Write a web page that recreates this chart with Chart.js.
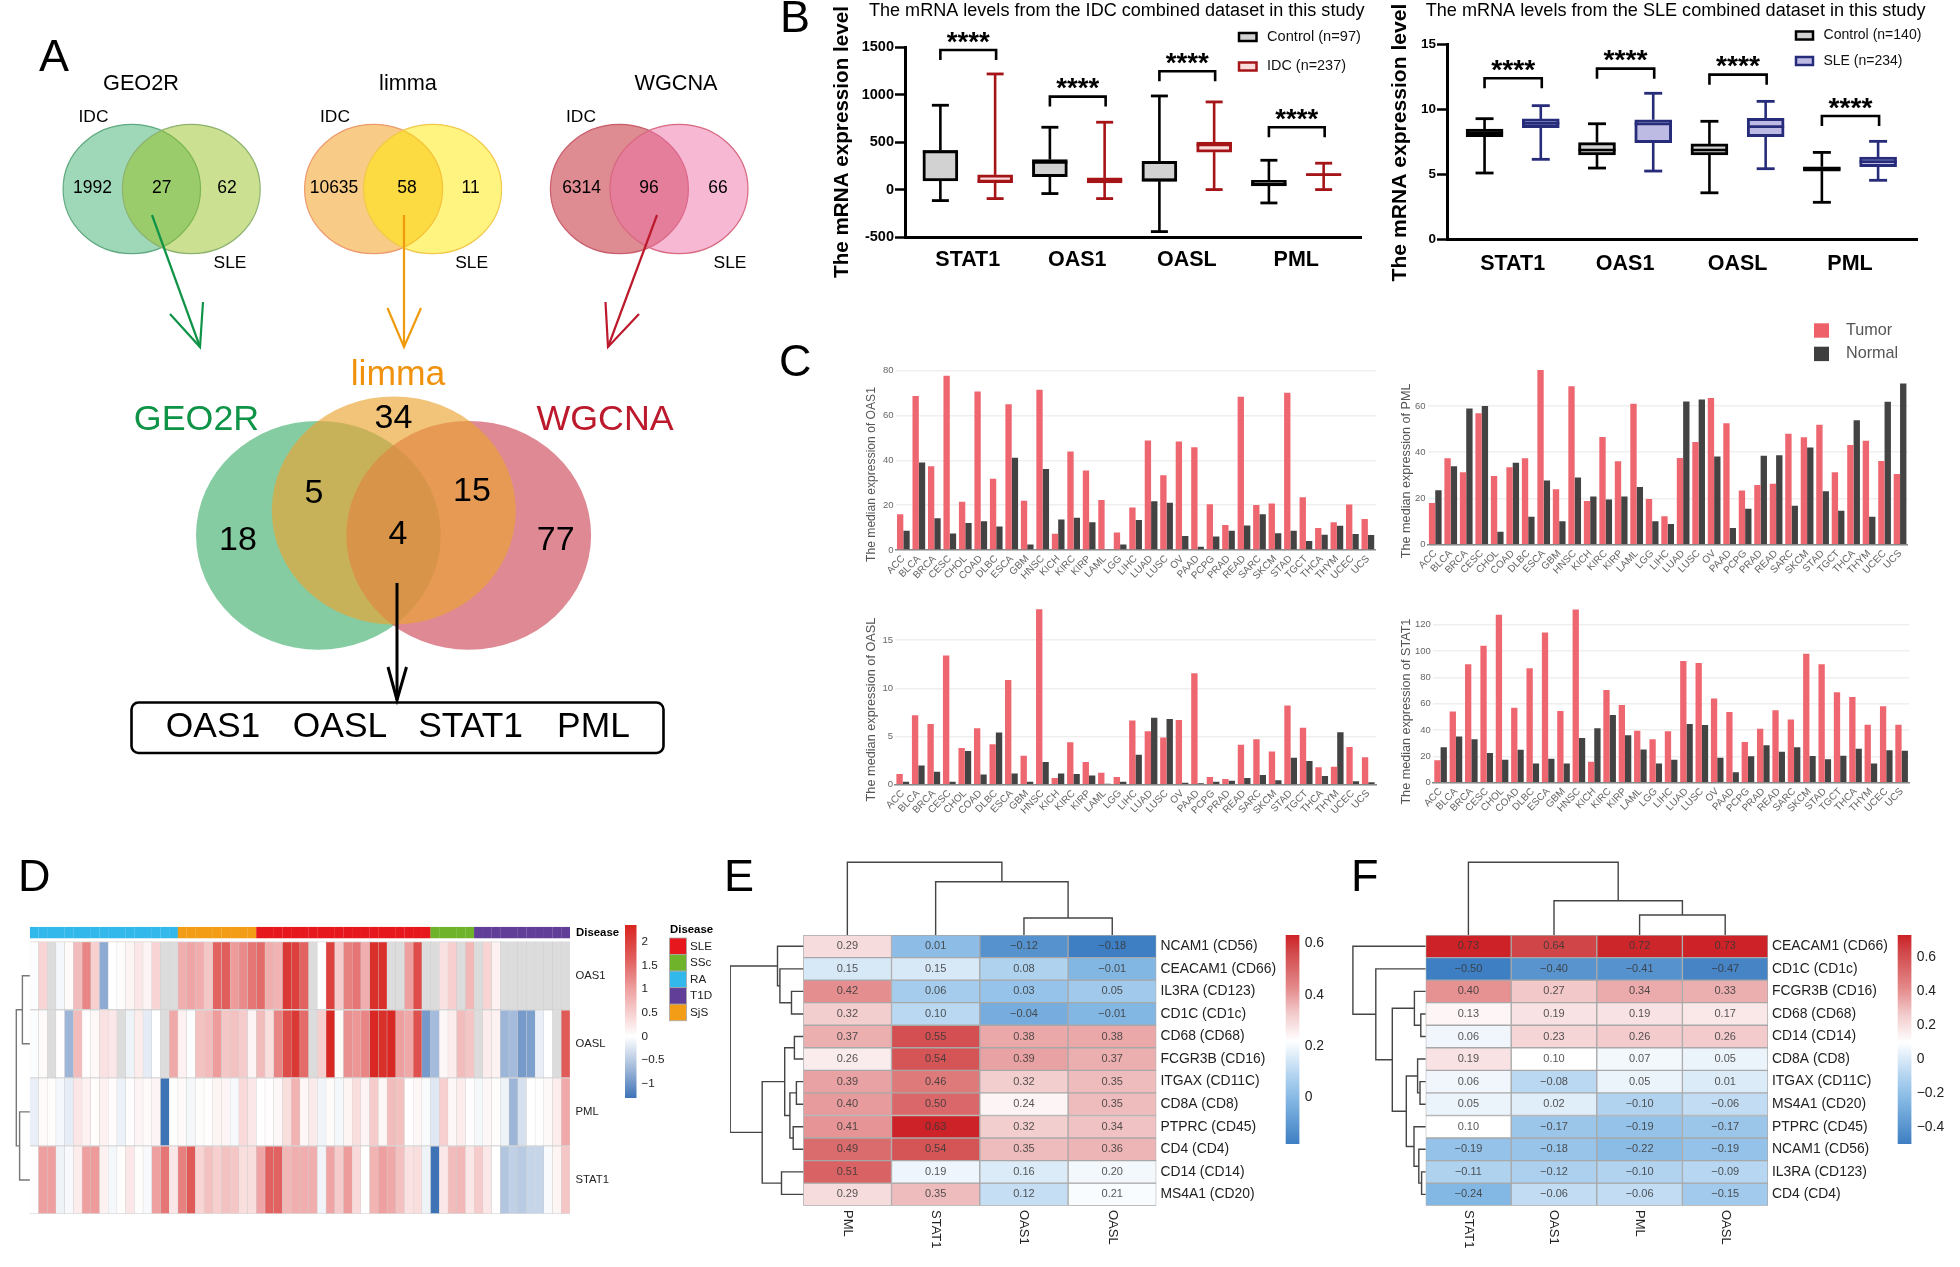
<!doctype html>
<html><head><meta charset="utf-8">
<style>html,body{margin:0;padding:0;background:#fff;width:1960px;height:1267px;overflow:hidden}canvas{position:absolute;display:block}</style>
<script src="https://cdn.jsdelivr.net/npm/chart.js@4/dist/chart.umd.min.js"></script>
</head><body><script>
// ---------- DATA ----------
const boxGenes=['STAT1','OAS1','OASL','PML'];
// [min,q1,median,q3,max]
const idcControlBox=[[-116,91,400,411,889],[-42,137,285,316,657],[-443,88,100,299,987],[-141,39,56,98,309]];
const idcCaseBox=[[-95,74,90,155,1219],[-95,70,98,123,710],[0,395,470,500,924],[0,152,158,165,278]];
const idcBracketTop=[1472,980,1247,657];
const idcTicks=[-500,0,500,1000,1500];
const sleControlBox=[[5.12,7.91,8.2,8.5,9.29],[5.5,6.5,6.89,7.45,8.9],[3.6,6.5,6.89,7.35,9.09],[2.87,5.27,5.45,5.6,6.7]];
const sleCaseBox=[[6.17,8.6,8.93,9.27,10.29],[5.27,7.45,8.88,9.21,11.24],[5.45,7.91,8.68,9.32,10.62],[4.56,5.6,5.99,6.35,7.55]];
const sleBracketTop=[12.39,13.13,12.67,9.5];
const sleTicks=[0,5,10,15];

const cancers=['ACC','BLCA','BRCA','CESC','CHOL','COAD','DLBC','ESCA','GBM','HNSC','KICH','KIRC','KIRP','LAML','LGG','LIHC','LUAD','LUSC','OV','PAAD','PCPG','PRAD','READ','SARC','SKCM','STAD','TGCT','THCA','THYM','UCEC','UCS'];
const oas1Tumor=[16,68.7,37.4,77.8,21.5,70.7,31.8,65,22,71.5,7.2,44,35.5,22.3,7.8,19,48.9,33.4,48.4,45.8,20.4,11.1,68.4,20.1,20.8,70.2,23.5,9.8,12.4,20.3,13.8];
const oas1Normal=[8.6,39,14.2,7.4,12.1,12.8,10.5,41.2,2.4,36.1,13.6,14.4,12.4,0.3,2.4,13.4,21.7,21.1,6.3,1.4,6,8.6,10.9,15.9,7.5,8.6,4,6.8,10.8,7.1,6.7];
const pmlTumor=[18,37.4,31.3,56.9,29.7,33.5,37.4,75.6,24,68.5,18.9,46.6,36.1,61,19.8,12.3,37.5,44.4,63.5,52.5,23.4,25.8,26.4,48,46.5,51.9,31.3,43.1,45,36.2,30.6];
const pmlNormal=[23.5,33.9,58.9,60,5.6,35.5,12.1,27.8,10.1,29.1,20.8,19.5,20.8,25,10.1,8.9,61.9,62.8,38.2,7.2,15.6,38.5,38.7,16.9,42,23.1,14.7,53.8,12.1,61.8,69.7];
const oaslTumor=[1.1,7.2,6.3,13.4,3.8,5.85,4.2,10.85,3,18.2,0.7,4.4,2.35,1.25,0.8,6.65,5.55,4.9,6.7,11.55,0.8,0.6,4.15,4.7,3.45,8.2,5.9,1.8,1.85,3.9,2.85];
const oaslNormal=[0.3,2,1.35,0.3,3.5,1.05,5.4,1.15,0.3,2.35,1.15,1.1,0.95,0.1,0.3,3.1,6.95,6.8,0.2,0.15,0.3,0.4,0.7,1,0.45,2.8,2.45,0.9,5.45,0.35,0.25];
const stat1Tumor=[17,54,90,104,127.5,57,87,114,54.5,131.5,16,70.5,59,39.5,33,39,92.5,91,64,53.7,31,41,55,48,98,90,68.7,65,44,58,44];
const stat1Normal=[27,35,33,22.5,17.5,25,14.5,18.2,14.5,34,41.3,51.5,36,25.2,14.5,17.5,44.5,43.8,19,8,20,28.5,23.5,27,20.2,17.8,20.5,25.8,14.5,24.7,24.3];

const diseaseNames=['RA','SjS','SLE','SSc','T1D'];
const diseaseCounts=[17,9,20,5,11];
const diseaseLegend=['SLE','SSc','RA','T1D','SjS'];
const diseaseColors={SLE:'#E6181E',SSc:'#6FB32A',RA:'#33B8EC',T1D:'#613E98',SjS:'#F39C16'};
const dRows=['OAS1','OASL','PML','STAT1'];
const n=null;
const dOAS1=[-.03,.45,n,-.08,.05,.7,1.25,.5,-.8,0,.03,.12,.25,.1,.45,n,n,.85,.95,.85,.6,1.6,1.65,1.05,1.2,1.4,1.5,.85,.8,2.1,2.0,1.6,n,0,2.0,.55,1.3,1.4,.85,2.2,2.2,n,n,1.0,1.85,n,n,.3,.5,n,.75,n,.45,.15,n,n,n,n,n,n,n,n];
const dOASL=[-.03,.05,n,.02,-.7,.7,.02,.07,.3,.25,n,-.12,.2,-.18,0,n,.9,.15,-.02,.65,.7,1.05,.6,.65,.55,.1,.7,.35,1.25,1.85,2.1,1.5,n,.5,2.3,.05,1.15,1.1,1.25,2.3,2.2,2.3,1.0,.9,1.8,-.95,-.65,.08,.2,.7,.6,n,.2,.15,-.7,-.65,-.95,-.9,-.15,0,n,1.7];
const dPML=[-.15,.05,.03,-.08,-.17,.25,.15,.03,.15,.03,-.13,.02,.1,.05,.1,-1.3,0,.05,-.07,.04,.02,.12,.1,-.06,.4,.25,0,.02,.08,.35,.8,.08,.22,-.1,.04,-.07,.12,.35,.1,.55,.08,.7,.65,.02,.08,-.05,-.22,.5,.08,.2,.02,-.07,.08,.03,-.12,-.7,-.3,0,-.01,.06,.2,.9];
const dSTAT1=[.02,1,1,-.12,-.06,.2,1,1.05,.15,-.07,.03,.25,.03,-.06,1,1.4,.25,1.3,1.7,.45,.65,.5,.65,.6,.35,.35,.95,1.6,1.6,.75,.85,.85,.85,-.1,.95,.55,1.05,.4,0,.8,1,.9,.65,.3,.35,-.12,-1.3,.25,.7,.75,.25,.55,.25,0,-.55,-.45,-.5,-.4,-.4,-.05,.12,.6];
const dTicks=[2,1.5,1,.5,0,-.5,-1];

const eCols=['PML','STAT1','OAS1','OASL'];
const eRows=['NCAM1 (CD56)','CEACAM1 (CD66)','IL3RA (CD123)','CD1C (CD1c)','CD68 (CD68)','FCGR3B (CD16)','ITGAX (CD11C)','CD8A (CD8)','PTPRC (CD45)','CD4 (CD4)','CD14 (CD14)','MS4A1 (CD20)'];
const ePML=[.29,.15,.42,.32,.37,.26,.39,.40,.41,.49,.51,.29];
const eSTAT1=[.01,.15,.06,.10,.55,.54,.46,.50,.63,.54,.19,.35];
const eOAS1=[-.12,.08,.03,-.04,.38,.39,.32,.24,.32,.35,.16,.12];
const eOASL=[-.18,-.01,.05,-.01,.38,.37,.35,.35,.34,.36,.20,.21];
const eTicks=[.6,.4,.2,0];
const fCols=['STAT1','OAS1','PML','OASL'];
const fRows=['CEACAM1 (CD66)','CD1C (CD1c)','FCGR3B (CD16)','CD68 (CD68)','CD14 (CD14)','CD8A (CD8)','ITGAX (CD11C)','MS4A1 (CD20)','PTPRC (CD45)','NCAM1 (CD56)','IL3RA (CD123)','CD4 (CD4)'];
const fSTAT1=[.73,-.50,.40,.13,.06,.19,.06,.05,.10,-.19,-.11,-.24];
const fOAS1=[.64,-.40,.27,.19,.23,.10,-.08,.02,-.17,-.18,-.12,-.06];
const fPML=[.72,-.41,.34,.19,.26,.07,.05,-.10,-.19,-.22,-.10,-.06];
const fOASL=[.73,-.47,.33,.17,.26,.05,.01,-.06,-.17,-.19,-.09,-.15];
const fTicks=[.6,.4,.2,0,-.2,-.4];
// dendrogram trees: [height, childA, childB]; numbers are leaf indexes
const dTree=[13.5,[7.4,0,1],[10.2,2,3]];
const eRowTree=[73,[25.7,0,[23.3,1,[11.7,2,3]]],[41,[18.5,[8.8,4,5],[13.3,[6.8,6,7],[10,8,9]]],[21.7,10,11]]];
const eColTree=[72.7,0,[53.3,1,[17,2,3]]];
const fRowTree=[72.7,0,[49.8,1,[33.3,[11.2,2,[4.8,3,4]],[19.3,[8,5,[5.6,6,7]],[11.6,8,[6.8,9,[4,10,11]]]]]]];
const fColTree=[72.7,0,[34.3,1,[20,2,3]]];

const smallVennTitles=['GEO2R','limma','WGCNA'];
const smallVennCounts=[['1992','27','62'],['10635','58','11'],['6314','96','66']];
const bigVennCounts=['34','5','15','18','4','77'];
const finalGenes=['OAS1','OASL','STAT1','PML'];

// ---------- HELPERS ----------
const FONT='"Liberation Sans", Arial, sans-serif';
Chart.defaults.font.family=FONT;
function txt(ctx,s,x,y,o={}){
  const {size=12,bold=false,color='#000',align='left',rot=0,w=null,base='middle'}=o;
  ctx.save();
  let sz=size; ctx.font=(bold?'bold ':'')+sz+'px '+FONT;
  if(w){sz=sz*w/ctx.measureText(s).width; ctx.font=(bold?'bold ':'')+sz+'px '+FONT;}
  ctx.translate(x,y); if(rot)ctx.rotate(rot*Math.PI/180);
  ctx.textAlign=align;ctx.textBaseline=base;ctx.fillStyle=color;ctx.fillText(s,0,0);ctx.restore();
}
function line(ctx,pts,color,lw,cap){
  ctx.save();ctx.strokeStyle=color;ctx.lineWidth=lw;ctx.lineCap=cap||'butt';ctx.lineJoin='miter';ctx.beginPath();
  pts.forEach((p,i)=>i?ctx.lineTo(p[0],p[1]):ctx.moveTo(p[0],p[1]));ctx.stroke();ctx.restore();
}
const fix=(dim,v)=>s=>{s[dim]=v;s.paddingLeft=s.paddingRight=s.paddingTop=s.paddingBottom=0;};
function mk(r,pad,cfg,draw){
  const c=document.createElement('canvas');c.width=r.w;c.height=r.h;
  c.style.left=r.x+'px';c.style.top=r.y+'px';c.style.width=r.w+'px';c.style.height=r.h+'px';
  document.body.appendChild(c);
  cfg.options=Object.assign({responsive:false,animation:false,devicePixelRatio:1,events:[],
    layout:{autoPadding:false,padding:pad},plugins:{legend:{display:false},tooltip:{enabled:false}}},cfg.options);
  cfg.plugins=[{id:'extras',afterDraw(ch){
    const ctx=ch.ctx;ctx.save();ctx.translate(-r.x,-r.y);
    const X=(v,ax='x')=>ch.scales[ax].getPixelForValue(v)+r.x, Y=(v,ax='y')=>ch.scales[ax].getPixelForValue(v)+r.y;
    draw(ctx,ch,X,Y,r);ctx.restore();}}];
  return new Chart(c,cfg);
}
function lerpStops(st,t){
  t=Math.max(0,Math.min(1,t));
  for(let i=1;i<st.length;i++) if(t<=st[i][0]){
    const a=st[i-1],b=st[i],k=(t-a[0])/(b[0]-a[0]);
    return 'rgb('+[1,2,3].map(j=>Math.round(a[j]+(b[j]-a[j])*k)).join(',')+')';
  }
  const l=st[st.length-1];return 'rgb('+l[1]+','+l[2]+','+l[3]+')';
}
const warm=[[0,255,255,255],[.27,242,200,201],[.5,228,138,139],[.86,208,68,70],[1,205,33,38]];
const cool=[[0,255,255,255],[.33,179,212,240],[.57,132,184,228],[1,62,126,194]];
const warmD=[[0,255,255,255],[.21,247,208,208],[.425,238,160,160],[.68,225,98,96],[1,216,36,31]];
const coolD=[[0,255,255,255],[.54,157,182,216],[1,62,115,182]];
function ramp(v,lo,mid,hi,w,c){
  if(v===null) return '#DCDCDC';
  return v>=mid?lerpStops(w,(v-mid)/(hi-mid)):lerpStops(c,(mid-v)/(mid-lo));
}
function dendro(ctx,tree,leaf,edge,vertical,color,lw){
  (function rec(nd){
    if(typeof nd==='number') return {p:leaf(nd),h:0};
    const A=rec(nd[1]),B=rec(nd[2]),h=nd[0];
    const pts=vertical?[[A.p,edge-A.h],[A.p,edge-h],[B.p,edge-h],[B.p,edge-B.h]]
                      :[[edge-A.h,A.p],[edge-h,A.p],[edge-h,B.p],[edge-B.h,B.p]];
    line(ctx,pts,color,lw);
    return {p:(A.p+B.p)/2,h};
  })(tree);
}
function colorbar(ctx,x0,x1,y0,y1,lo,mid,hi,w,c,ticks,labX,size){
  for(let y=Math.floor(y0);y<y1;y++){
    const v=hi-(y+.5-y0)/(y1-y0)*(hi-lo);
    ctx.fillStyle=ramp(v,lo,mid,hi,w,c);ctx.fillRect(x0,y,x1-x0,1);
  }
  ticks.forEach(t=>{
    const y=y0+(hi-t)/(hi-lo)*(y1-y0);
    txt(ctx,(t<0?'\u2212':'')+String(Math.abs(t)),labX,y,{size,color:'#222'});
  });
}

// ---------- PANEL A + LETTERS (page-wide layer) ----------
const ellipses={ // cx,cy,rx,ry in page units
  small:[[131.8,189,68.7,64.7,'rgba(63,177,113,.5)','#5FA980'],[191.3,189,68.9,64.7,'rgba(151,193,33,.5)','#8DB26E'],
         [373.6,189,69,64.7,'rgba(241,151,13,.5)','#ED9A6C'],[432.6,189,69,64.7,'rgba(255,233,0,.5)','#F2C84A'],
         [619.4,189,69,64.7,'rgba(189,23,37,.5)','#C95D6C'],[679,189,69,64.7,'rgba(237,113,165,.5)','#D86880']],
  big:[[318.4,535.3,122.4,114.4,'rgba(67,176,112,.65)'],[468.7,535.3,122.4,114.4,'rgba(204,74,90,.65)'],[393.8,510.4,122,114,'rgba(235,165,50,.65)']]
};
mk({x:0,y:0,w:1960,h:1267},0,{type:'scatter',data:{datasets:[{data:[]}]},options:{scales:{
  x:{type:'linear',display:false,min:0,max:1960},y:{type:'linear',display:false,min:0,max:1267,reverse:true}}}},
 (ctx,ch,X,Y)=>{
  ellipses.small.concat(ellipses.big).forEach(e=>{
    ctx.beginPath();ctx.ellipse(X(e[0]),Y(e[1]),e[2],e[3],0,0,2*Math.PI);ctx.fillStyle=e[4];ctx.fill();
    if(e[5]){ctx.strokeStyle=e[5];ctx.lineWidth=1.2;ctx.stroke();}
  });
  const tcx=[141,408,676], f=21.7;
  smallVennTitles.forEach((s,i)=>txt(ctx,s,tcx[i],84,{size:f,align:'center'}));
  const cx=[[92.5,161.7,227],[334,407,470.6],[581.6,649,718]],idc=[93.5,335,581],sle=[230,471.6,730];
  smallVennCounts.forEach((r,i)=>{r.forEach((s,j)=>txt(ctx,s,cx[i][j],188.5,{size:17.5,align:'center'}));
    txt(ctx,'IDC',idc[i],117,{size:17.4,align:'center'});txt(ctx,'SLE',sle[i],263,{size:17.4,align:'center'});});
  const arrows=[['#0E9347',152,215,200,347,170,314,203,302],['#F09A0E',404,215,404,347,387.5,308,421,308],['#BC1A2C',657,215,608,347,605.5,302,639,314]];
  arrows.forEach(a=>{line(ctx,[[a[1],a[2]],[a[3],a[4]]],a[0],2.2);line(ctx,[[a[5],a[6]],[a[3],a[4]],[a[7],a[8]]],a[0],2.2);});
  txt(ctx,'limma',398,375.5,{size:35.5,color:'#F0920E',align:'center'});
  txt(ctx,'GEO2R',196.5,420,{size:35.8,color:'#0E9347',align:'center'});
  txt(ctx,'WGCNA',605,420,{size:35.8,color:'#BC1A2C',align:'center'});
  const bp=[[393.5,418.5],[314,493.5],[472,491.5],[238,540.5],[398,535],[555.7,540.5]];
  bigVennCounts.forEach((s,i)=>txt(ctx,s,bp[i][0],bp[i][1],{size:34,align:'center'}));
  line(ctx,[[397,583],[397,700]],'#000',3);line(ctx,[[388,667],[397,700],[406.5,667]],'#000',3);
  ctx.lineWidth=2.6;ctx.strokeStyle='#000';ctx.beginPath();ctx.roundRect(131.5,702.5,532,50.5,7);ctx.stroke();
  const gx=[213,340,470.6,593.5];finalGenes.forEach((s,i)=>txt(ctx,s,gx[i],727,{size:35.4,align:'center'}));
  [['A',39,71],['B',780,32],['C',779,376],['D',18,891],['E',724,891],['F',1351,891]].forEach(l=>txt(ctx,l[0],l[1],l[2],{size:45,base:'alphabetic'}));
 });

// ---------- PANEL B ----------
function boxChart(o){
  const r=o.rect;
  const ds=[];
  [[o.ctrl,'#000','#D2D2D2',-.25],[o.cas,o.caseBorder,o.caseFill,.25]].forEach(s=>{
    ds.push({data:s[0].map((b,i)=>({x:i+s[3],y:[b[1],b[3]]})),backgroundColor:s[2],borderColor:s[1],borderWidth:3,borderSkipped:false,barThickness:o.boxW,grouped:false});
  });
  mk(r,{top:o.area.t-r.y,right:r.x+r.w-o.area.r,left:0,bottom:0},{type:'bar',data:{datasets:ds},options:{scales:{
    x:{type:'linear',offset:false,min:o.xMin,max:o.xMax,afterFit:fix('height',r.y+r.h-o.area.b),
       afterBuildTicks:s=>{s.ticks=boxGenes.map((_,i)=>({value:i}));},
       grid:{display:false,drawTicks:false},border:{display:true,color:'#000',width:3},
       ticks:{autoSkip:false,maxRotation:0,padding:o.xPad,color:'#000',font:{size:21.5,weight:'bold'},callback:(v)=>boxGenes[v]}},
    y:{type:'linear',min:o.yMin,max:o.yMax,afterFit:fix('width',o.area.l-r.x),
       afterBuildTicks:s=>{s.ticks=o.ticks.map(v=>({value:v}));},
       grid:{display:true,drawOnChartArea:false,drawTicks:true,tickLength:10,tickWidth:2.5,tickColor:'#000'},
       border:{display:true,color:'#000',width:3},
       ticks:{padding:1,color:'#000',font:{size:o.tickSize,weight:'bold'},callback:v=>String(v)}}
  }}},(ctx,ch,X,Y)=>{
    [[o.ctrl,'#000'],[o.cas,o.caseBorder]].forEach((s,si)=>{
      s[0].forEach((b,i)=>{
        const x=X(i+(si?.25:-.25)),c=s[1],cw=o.capW/2;
        line(ctx,[[x,Y(b[1])],[x,Y(b[0])]],c,2.6);line(ctx,[[x,Y(b[3])],[x,Y(b[4])]],c,2.6);
        line(ctx,[[x-cw,Y(b[0])],[x+cw,Y(b[0])]],c,2.8);line(ctx,[[x-cw,Y(b[4])],[x+cw,Y(b[4])]],c,2.8);
        line(ctx,[[x-o.boxW/2,Y(b[2])],[x+o.boxW/2,Y(b[2])]],c,2.6);
      });
    });
    o.brackets.forEach((v,i)=>{
      const a=X(i-.25),b=X(i+.25)+1,y=Y(v);
      line(ctx,[[a,y+10],[a,y],[b,y],[b,y+10]],'#000',2.6);
      txt(ctx,'****',(a+b)/2,y-7,{size:27,bold:true,align:'center',w:o.starW});
    });
    txt(ctx,o.title,o.titleX,11,{size:17,w:o.titleW});
    txt(ctx,'The mRNA expression level',o.yTitleX,o.yTitleY,{size:20.5,bold:true,align:'center',rot:-90,w:o.yTitleW});
    o.legend.forEach(l=>{
      ctx.fillStyle=l.fill;ctx.strokeStyle=l.c;ctx.lineWidth=2.5;
      ctx.fillRect(o.legX,l.y-4,o.legW,8);ctx.strokeRect(o.legX,l.y-4,o.legW,8);
      txt(ctx,l.s,o.legX+o.legW+o.legGap,l.y,{size:14,w:l.w,color:'#111'});
    });
  });
}
boxChart({rect:{x:830,y:0,w:545,h:290},area:{l:905,r:1361,t:47.3,b:237},xMin:-.573,xMax:3.591,yMin:-500,yMax:1500,ticks:idcTicks,
  ctrl:idcControlBox,cas:idcCaseBox,caseBorder:'#A51417',caseFill:'#FADCDC',boxW:35,capW:17,brackets:idcBracketTop,starW:43,xPad:10,tickSize:14.5,
  title:'The mRNA levels from the IDC combined dataset in this study',titleX:869,titleW:496,yTitleX:842,yTitleY:142,yTitleW:272,
  legX:1239,legW:17.5,legGap:10.5,legend:[{s:'Control (n=97)',y:37,c:'#000',fill:'#D2D2D2',w:94},{s:'IDC (n=237)',y:66.5,c:'#A51417',fill:'#FADCDC',w:79}]});
boxChart({rect:{x:1385,y:0,w:550,h:290},area:{l:1447,r:1917,t:44.3,b:239.7},xMin:-.584,xMax:3.596,yMin:0,yMax:15,ticks:sleTicks,
  ctrl:sleControlBox,cas:sleCaseBox,caseBorder:'#272C7A',caseFill:'#BDBBE3',boxW:37,capW:18,brackets:sleBracketTop,starW:44,xPad:11,tickSize:13.5,
  title:'The mRNA levels from the SLE combined dataset in this study',titleX:1425.7,titleW:500,yTitleX:1400,yTitleY:142.5,yTitleW:278,
  legX:1796,legW:17,legGap:10.5,legend:[{s:'Control (n=140)',y:35.5,c:'#000',fill:'#D2D2D2',w:98},{s:'SLE (n=234)',y:61,c:'#272C7A',fill:'#BDBBE3',w:79}]});

// ---------- PANEL C ----------
function barChart(o){
  const r=o.rect,a=o.area;
  const s=(d,bg)=>({data:d,backgroundColor:bg,borderWidth:0,barPercentage:1,categoryPercentage:.82});
  mk(r,{top:a.t-r.y,right:r.x+r.w-a.r,left:0,bottom:0},{type:'bar',data:{labels:cancers,datasets:[s(o.t,'#EE6770'),s(o.n,'#434343')]},options:{scales:{
    x:{type:'category',afterFit:fix('height',r.y+r.h-a.b),grid:{display:false,drawTicks:false},border:{display:true,color:'#888',width:1.5},
       ticks:{autoSkip:false,minRotation:46,maxRotation:46,padding:3,color:'#666',font:{size:10}}},
    y:{type:'linear',min:0,max:o.max,afterFit:fix('width',a.l-r.x),afterBuildTicks:sc=>{sc.ticks=o.ticks.map(v=>({value:v}));},
       grid:{color:'#EFEFEF',lineWidth:1.5,drawTicks:false},border:{display:false},
       ticks:{padding:2,color:'#666',font:{size:9.5},callback:v=>String(v)}}
  }}},(ctx)=>{
    txt(ctx,o.title,o.tx,o.ty,{size:12,color:'#555',align:'center',rot:-90,w:o.tw});
    if(o.legend){
      [['Tumor','#EE616A',323.3,330.7],['Normal','#3E3E3E',346.7,354]].forEach(l=>{
        ctx.fillStyle=l[1];ctx.fillRect(1814,l[2],15,14.4);
        txt(ctx,l[0],1846,l[3],{size:16.2,color:'#555'});
      });
    }
  });
}
barChart({rect:{x:860,y:360,w:525,h:238},area:{l:895.6,r:1375.6,t:370.7,b:550},max:80,ticks:[0,20,40,60,80],t:oas1Tumor,n:oas1Normal,title:'The median expression of OAS1',tx:872,ty:474.5,tw:175});
barChart({rect:{x:1395,y:310,w:530,h:288},area:{l:1427.5,r:1907.8,t:369,b:544.7},max:76,ticks:[0,20,40,60],t:pmlTumor,n:pmlNormal,title:'The median expression of PML',tx:1407,ty:470.8,tw:175,legend:true});
barChart({rect:{x:860,y:600,w:525,h:240},area:{l:895,r:1376,t:608.2,b:784.7},max:18.3,ticks:[0,5,10,15],t:oaslTumor,n:oaslNormal,title:'The median expression of OASL',tx:871.8,ty:709.5,tw:184});
barChart({rect:{x:1395,y:600,w:530,h:240},area:{l:1432.9,r:1909.3,t:608.9,b:782.7},max:132,ticks:[0,20,40,60,80,100,120],t:stat1Tumor,n:stat1Normal,title:'The median expression of STAT1',tx:1407,ty:711.6,tw:186});

// ---------- PANEL D ----------
(function(){
  const r={x:0,y:915,w:730,h:310},a={l:29.8,r:570,t:926.7,b:1214};
  const rows=[dOAS1,dOASL,dPML,dSTAT1];
  const labels=dOAS1.map((_,i)=>String(i));
  const annColors=[];diseaseNames.forEach((d,i)=>{for(let k=0;k<diseaseCounts[i];k++)annColors.push(diseaseColors[d]);});
  const lo=-1.3,hi=2.35;
  const ds=rows.map((row,ri)=>({data:row.map(()=>[ri,ri+1]),backgroundColor:row.map(v=>ramp(v,lo,0,hi,warmD,coolD)),
    borderColor:'rgba(165,165,165,.4)',borderWidth:{left:.5,right:.5,top:1,bottom:1},borderSkipped:false,grouped:false,barPercentage:1,categoryPercentage:1}));
  ds.push({data:annColors.map(()=>[-.22,-.05]),backgroundColor:annColors,borderWidth:0,grouped:false,barPercentage:1,categoryPercentage:1.02});
  mk(r,{left:a.l-r.x,top:a.t-r.y,bottom:r.y+r.h-a.b,right:0},{type:'bar',data:{labels,datasets:ds},options:{scales:{
    x:{type:'category',display:false,offset:true},
    y:{type:'linear',position:'right',reverse:true,min:-.22,max:4,afterFit:fix('width',r.x+r.w-a.r),
      afterBuildTicks:s=>{s.ticks=dRows.map((_,i)=>({value:i+.5}));},
      grid:{display:false,drawTicks:false},border:{display:false},
      ticks:{autoSkip:false,padding:5.5,color:'#222',font:{size:11.3},callback:(v,i)=>dRows[i]}}
  }}},(ctx,ch,X,Y)=>{
    dendro(ctx,dTree,i=>Y(i+.5),29.8,false,'#777',1.4);
    txt(ctx,'Disease',576,932.7,{size:11.4,bold:true});
    colorbar(ctx,625,636.5,925,1098,lo,0,hi,warmD,coolD,dTicks,641.5,11.7);
    txt(ctx,'Disease',670,930,{size:11.4,bold:true});
    diseaseLegend.forEach((d,i)=>{
      const y=938+i*16.55;
      ctx.fillStyle=diseaseColors[d];ctx.fillRect(669.5,y,17,16.55);
      ctx.strokeStyle='#aaa';ctx.lineWidth=.8;ctx.strokeRect(669.5,y,17,16.55);
      txt(ctx,d,690,y+8.3,{size:11.7,color:'#222'});
    });
  });
})();

// ---------- PANELS E, F ----------
function corrChart(o){
  const r=o.rect,a=o.area,nR=o.rows.length;
  const ds=o.rows.map((name,ri)=>({data:o.cols.map(()=>[ri,ri+1]),
    backgroundColor:o.vals.map(c=>ramp(c[ri],o.lo,o.mid,o.hi,warm,cool)),
    borderColor:'#A8A8A8',borderWidth:1,borderSkipped:false,grouped:false,barPercentage:1,categoryPercentage:1}));
  mk(r,{left:a.l-r.x,top:a.t-r.y,bottom:r.y+r.h-a.b,right:0},{type:'bar',data:{labels:o.cols,datasets:ds},options:{scales:{
    x:{type:'category',display:false,offset:true},
    y:{type:'linear',position:'right',reverse:true,min:0,max:nR,afterFit:fix('width',r.x+r.w-a.r),
      afterBuildTicks:s=>{s.ticks=o.rows.map((_,i)=>({value:i+.5}));},
      grid:{display:false,drawTicks:false},border:{display:false},
      ticks:{autoSkip:false,padding:4,color:'#222',font:{size:13.9},callback:(v,i)=>o.rows[i]}}
  }}},(ctx,ch,X,Y)=>{
    o.vals.forEach((c,ci)=>c.forEach((v,ri)=>{
      const s=(v<0?'\u2212':'')+Math.abs(v).toFixed(2);
      txt(ctx,s,X(ci),Y(ri+.5),{size:11,align:'center',color:'rgba(55,55,55,.85)'});
    }));
    o.cols.forEach((s,ci)=>txt(ctx,s,X(ci),1210,{size:13,rot:90,color:'#222'}));
    dendro(ctx,o.rowTree,i=>Y(i+.5),a.l,false,'#444',1.4);
    dendro(ctx,o.colTree,i=>X(i),a.t,true,'#444',1.4);
    colorbar(ctx,o.cb,o.cb+13.7,935,1143.7,o.lo,o.mid,o.hi,warm,cool,o.ticks,o.cb+19,13.9);
  });
}
corrChart({rect:{x:730,y:850,w:615,h:417},area:{l:803.2,r:1156.4,t:935,b:1205.7},rows:eRows,cols:eCols,vals:[ePML,eSTAT1,eOAS1,eOASL],lo:-.179,mid:.22,hi:.632,ticks:eTicks,rowTree:eRowTree,colTree:eColTree,cb:1285.7});
corrChart({rect:{x:1345,y:850,w:615,h:417},area:{l:1425.6,r:1768,t:935,b:1205.7},rows:fRows,cols:fCols,vals:[fSTAT1,fOAS1,fPML,fOASL],lo:-.498,mid:.1,hi:.732,ticks:fTicks,rowTree:fRowTree,colTree:fColTree,cb:1897.7});
</script></body></html>
